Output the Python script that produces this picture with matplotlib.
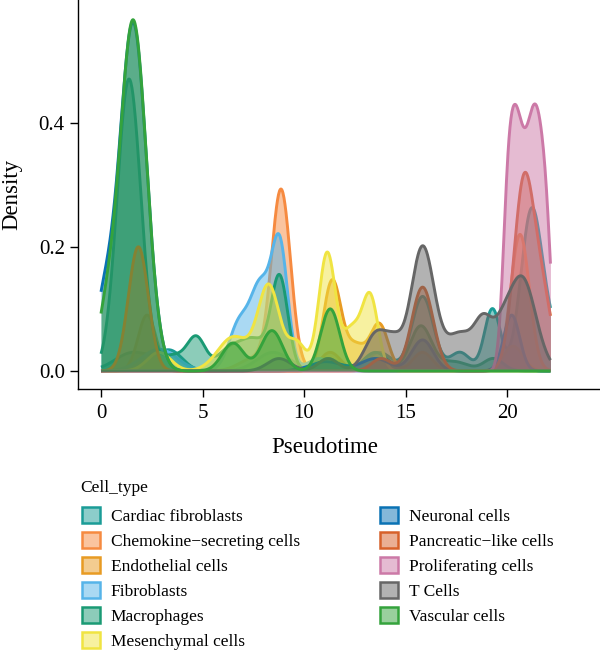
import numpy as np
import matplotlib
matplotlib.use("Agg")
import matplotlib.pyplot as plt
from matplotlib.patches import Patch

plt.rcParams['font.family'] = ['Liberation Serif', 'DejaVu Serif']

cell_types = ["Cardiac fibroblasts", "Chemokine\u2212secreting cells", "Endothelial cells",
              "Fibroblasts", "Macrophages", "Mesenchymal cells", "Neuronal cells",
              "Pancreatic\u2212like cells", "Proliferating cells", "T Cells", "Vascular cells"]
line_colors = ["#1a9c97", "#f68a40", "#e89b23", "#56b4e9", "#1a9a74", "#f0e442",
               "#0a72b4", "#d7612a", "#cc79a7", "#666666", "#34a33c"]

# density peaks: (pseudotime centre, density height, spread)
cardiac_fibroblasts_peaks = [(1.6, 0.03, 0.9), (3.44, 0.03, 0.6), (8.48, 0.03, 0.8), (11.09, 0.02, 0.7),
                             (13.71, 0.03, 0.6), (15.84, 0.12, 0.53), (17.68, 0.03, 0.5), (19.28, 0.10, 0.39),
                             (21.22, 0.26, 0.53), (22.24, 0.045, 0.44)]
chemokine_peaks = [(7.51, 0.02, 0.7), (8.87, 0.29, 0.47), (11.29, 0.03, 0.5), (20.64, 0.22, 0.46)]
endothelial_peaks = [(2.27, 0.09, 0.44), (11.39, 0.145, 0.44), (12.55, 0.04, 0.48), (13.71, 0.075, 0.44),
                     (15.84, 0.03, 0.48), (20.3, 0.04, 0.48)]
fibroblasts_peaks = [(2.86, 0.035, 0.87), (6.8, 0.075, 0.5), (7.85, 0.13, 0.48), (8.8, 0.2, 0.4),
                     (10.75, 0.02, 0.58)]
macrophages_peaks = [(1.38, 0.47, 0.58), (3.54, 0.025, 0.68), (4.71, 0.05, 0.44), (6.25, 0.03, 0.58),
                     (7.51, 0.05, 0.68), (8.8, 0.147, 0.41), (11.19, 0.02, 0.48), (13.52, 0.03, 0.58),
                     (15.75, 0.072, 0.53), (17.39, 0.015, 0.68), (19.33, 0.02, 0.48)]
mesenchymal_peaks = [(2.86, 0.03, 0.58), (6.54, 0.055, 0.78), (8.27, 0.135, 0.53), (9.64, 0.045, 0.44),
                     (11.14, 0.19, 0.41), (12.35, 0.065, 0.44), (13.26, 0.118, 0.39)]
neuronal_peaks = [(0.15, 0.1, 0.5), (1.58, 0.56, 0.66), (11.09, 0.015, 0.78), (13.52, 0.02, 0.68),
                  (15.84, 0.05, 0.53), (20.23, 0.09, 0.39)]
pancreatic_peaks = [(1.84, 0.2, 0.49), (13.81, 0.02, 0.48), (15.84, 0.135, 0.53), (20.83, 0.30, 0.5),
                    (21.75, 0.11, 0.48)]
proliferating_peaks = [(19.75, 0.05, 0.2), (20.0, 0.19, 0.2), (20.25, 0.22, 0.2), (20.5, 0.22, 0.2),
                       (20.75, 0.19, 0.2), (21.0, 0.19, 0.2), (21.25, 0.22, 0.2), (21.5, 0.22, 0.2),
                       (21.75, 0.19, 0.2), (22.0, 0.15, 0.2), (22.25, 0.03, 0.2)]
t_cells_peaks = [(8.77, 0.02, 0.58), (11.19, 0.02, 0.48), (13.61, 0.063, 0.58), (14.49, 0.03, 0.39),
                 (15.84, 0.2, 0.58), (17.68, 0.06, 0.68), (18.85, 0.07, 0.44), (19.72, 0.04, 0.44),
                 (20.73, 0.15, 0.68)]
vascular_peaks = [(0.24, 0.07, 0.44), (1.58, 0.565, 0.66), (6.5, 0.045, 0.53), (8.42, 0.065, 0.53),
                  (11.29, 0.10, 0.47)]

all_peaks = [cardiac_fibroblasts_peaks, chemokine_peaks, endothelial_peaks, fibroblasts_peaks,
             macrophages_peaks, mesenchymal_peaks, neuronal_peaks, pancreatic_peaks,
             proliferating_peaks, t_cells_peaks, vascular_peaks]

pseudotime_min, pseudotime_max = 0.0, 22.14
x_ticks = [0, 5, 10, 15, 20]
y_ticks = [0.0, 0.2, 0.4]
y_tick_labels = ["0.0", "0.2", "0.4"]

grid = np.linspace(pseudotime_min, pseudotime_max, 900)


def density(peaks):
    d = np.zeros_like(grid)
    for c, h, s in peaks:
        d += h * np.exp(-(grid - c) ** 2 / (2 * s ** 2))
    return d


fig = plt.figure(figsize=(6.0, 6.52), dpi=100)
ax = fig.add_axes([78 / 600, 1 - 389 / 652, 522 / 600, 389 / 652])

for i, (peaks, col) in enumerate(zip(all_peaks, line_colors)):
    d = density(peaks)
    ax.fill_between(grid, 0, d, color=col, alpha=0.5, lw=0, zorder=2 + 2 * i)
    ax.plot(grid, d, color=col, lw=2.1, zorder=3 + 2 * i, solid_capstyle='butt')

ax.set_xlim(-1.133, 24.58)
ax.set_ylim(-0.029, 0.5974)
ax.set_xticks(x_ticks)
ax.set_yticks(y_ticks)
ax.set_yticklabels(y_tick_labels)
for s in ['top', 'right']:
    ax.spines[s].set_visible(False)
for s in ['left', 'bottom']:
    ax.spines[s].set_linewidth(1.0)
    ax.spines[s].set_color('black')
ax.tick_params(axis='both', length=5.5, width=1.0, color='black', labelsize=15, labelcolor='black')
ax.tick_params(axis='x', pad=5)
ax.tick_params(axis='y', pad=4)

ax.set_xlabel("Pseudotime", fontsize=16.5)
ax.set_ylabel("Density", fontsize=16.5)
ax.xaxis.set_label_coords((325 - 78) / 522, -48 / 389)
ax.yaxis.set_label_coords((22 - 78) / 522, 0.5)

fig.text(80 / 600, 1 - 488 / 652, "Cell_type", fontsize=12.5, ha='left', va='center')
handles = [Patch(facecolor=matplotlib.colors.to_rgba(c, 0.5), edgecolor=c, lw=1.8) for c in line_colors]
leg = fig.legend(handles, cell_types, loc='upper left', bbox_to_anchor=(82 / 600, 1 - 507 / 652),
                 ncol=2, frameon=False, fontsize=12.5,
                 handlelength=1.03, handleheight=1.03, handletextpad=0.63,
                 labelspacing=0.41, columnspacing=4.63, borderpad=0, borderaxespad=0)

fig.savefig("out.png", dpi=100)
